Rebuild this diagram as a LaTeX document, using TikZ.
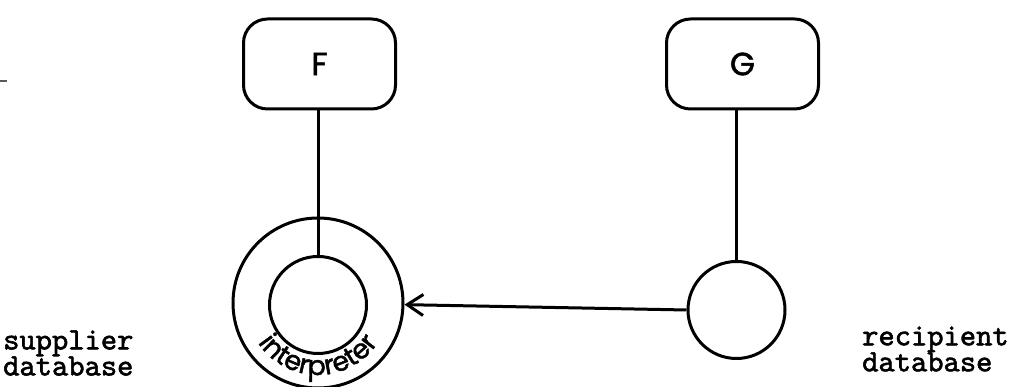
\documentclass[tikz,border=0pt]{standalone}
\usepackage{fontspec}
\newfontfamily\geofont{Poppins}[FakeBold=1.6]
\newfontfamily\typefont{lmmono10-regular}[Extension=.otf,FakeBold=1.8]
\usetikzlibrary{arrows.meta,decorations.text}
\begin{document}
\begin{tikzpicture}[x=1pt,y=1pt,
  ink/.style={line width=3pt,black},
  procbox/.style={ink,draw,rounded corners=24pt,minimum width=152pt,minimum height=90pt,
    inner sep=0pt,font=\geofont\fontsize{32}{32}\selectfont},
  dbcircle/.style={ink,draw,circle,inner sep=0pt},
  label/.style={align=left,anchor=west,inner sep=0pt,font=\typefont\fontsize{31}{26}\selectfont},
  flow/.style={ink,-{Straight Barb[length=16pt,width=21pt,line width=3pt]}}]
\useasboundingbox (0,0) rectangle (1010,387);

% processes
\node[procbox] (F) at (319.5,323) {F};
\node[procbox] (G) at (742.5,323) {G};

% supplier side: database inside its interpreter ring
\node[dbcircle,minimum size=170pt] (interp) at (318,84) {};
\node[dbcircle,minimum size=97pt] (sdb) at (318,82) {};
\path[decorate,decoration={text along path,text align=center,
    text={|\geofont\fontsize{27}{27}\selectfont|interpreter}}]
  (interp.center) ++(195:72) arc[start angle=195,end angle=345,radius=72];

% recipient side
\node[dbcircle,minimum size=97pt] (rdb) at (736.5,77) {};

% connections
\draw[ink] (sdb.north) -- (sdb.north |- F.south);
\draw[ink] (rdb.north) -- (rdb.north |- G.south);
\draw[flow] (rdb.west) -- (interp);

% captions
\node[label] (sup) at (3,34) {supplier\\database};
\node[label] (rec) at (862,38) {recipient\\database};

% short mark at the left edge
\coordinate (m0) at (0,306);
\coordinate (m1) at (7,306);
\draw[line width=2pt,black!65] (m0) -- (m1);
\end{tikzpicture}
\end{document}
